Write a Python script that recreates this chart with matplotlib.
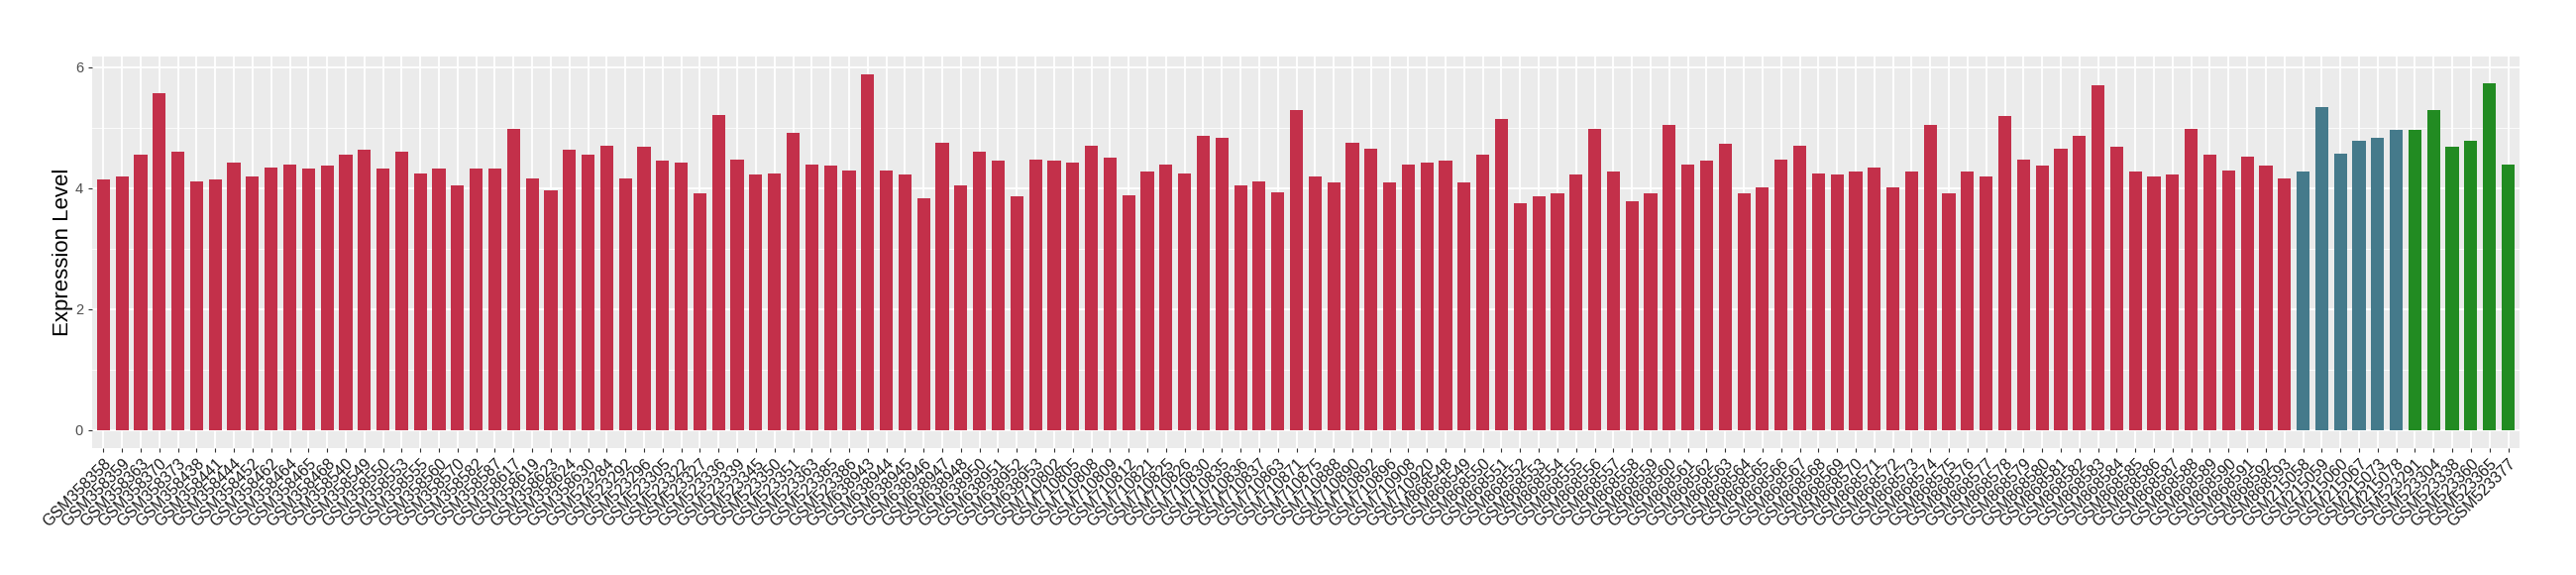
import numpy as np
import matplotlib
matplotlib.use("Agg")
import matplotlib.pyplot as plt
from matplotlib.ticker import MultipleLocator

plt.rcParams["font.family"] = ["Liberation Sans", "DejaVu Sans"]

# sample ids per group
group1_samples = [
    "GSM358358", "GSM358359", "GSM358363", "GSM358370", "GSM358373", "GSM358438",
    "GSM358441", "GSM358444", "GSM358452", "GSM358462", "GSM358464", "GSM358465",
    "GSM358468", "GSM358540", "GSM358549", "GSM358550", "GSM358553", "GSM358555",
    "GSM358560", "GSM358570", "GSM358582", "GSM358587", "GSM358617", "GSM358619",
    "GSM358623", "GSM358624", "GSM358630",
    "GSM523284", "GSM523292", "GSM523296", "GSM523305", "GSM523322", "GSM523327",
    "GSM523336", "GSM523339", "GSM523345", "GSM523350", "GSM523351", "GSM523363",
    "GSM523385", "GSM523386",
    "GSM638943", "GSM638944", "GSM638945", "GSM638946", "GSM638947", "GSM638948",
    "GSM638950", "GSM638951", "GSM638952", "GSM638953",
    "GSM710802", "GSM710805", "GSM710808", "GSM710809", "GSM710812", "GSM710821",
    "GSM710825", "GSM710826", "GSM710830", "GSM710835", "GSM710836", "GSM710837",
    "GSM710863", "GSM710871", "GSM710875", "GSM710888", "GSM710890", "GSM710892",
    "GSM710896", "GSM710908", "GSM710920",
    "GSM868548", "GSM868549", "GSM868550", "GSM868551", "GSM868552", "GSM868553",
    "GSM868554", "GSM868555", "GSM868556", "GSM868557", "GSM868558", "GSM868559",
    "GSM868560", "GSM868561", "GSM868562", "GSM868563", "GSM868564", "GSM868565",
    "GSM868566", "GSM868567", "GSM868568", "GSM868569", "GSM868570", "GSM868571",
    "GSM868572", "GSM868573", "GSM868574", "GSM868575", "GSM868576", "GSM868577",
    "GSM868578", "GSM868579", "GSM868580", "GSM868581", "GSM868582", "GSM868583",
    "GSM868584", "GSM868585", "GSM868586", "GSM868587", "GSM868588", "GSM868589",
    "GSM868590", "GSM868591", "GSM868592", "GSM868593",
]
group2_samples = ["GSM215058", "GSM215059", "GSM215060", "GSM215067", "GSM215073", "GSM215078"]
group3_samples = ["GSM523291", "GSM523304", "GSM523338", "GSM523360", "GSM523365", "GSM523377"]

group1_values = [
    4.14, 4.20, 4.55, 5.58, 4.60, 4.12, 4.14, 4.43, 4.20, 4.35, 4.40, 4.33, 4.37,
    4.55, 4.64, 4.32, 4.60, 4.25, 4.33, 4.04, 4.32, 4.33, 4.99, 4.17, 3.96, 4.63,
    4.55, 4.71, 4.17, 4.68, 4.45, 4.42, 3.92, 5.22, 4.48, 4.22, 4.25, 4.91, 4.40,
    4.38, 4.30, 5.89, 4.30, 4.23, 3.83, 4.76, 4.05, 4.60, 4.45, 3.87, 4.48, 4.45,
    4.43, 4.71, 4.50, 3.89, 4.28, 4.40, 4.25, 4.86, 4.83, 4.05, 4.12, 3.94, 5.30,
    4.19, 4.10, 4.76, 4.66, 4.09, 4.40, 4.43, 4.46, 4.09, 4.56, 5.15, 3.76,
    3.86, 3.91, 4.23, 4.99, 4.28, 3.79, 3.91, 5.04, 4.40, 4.45, 4.74, 3.91, 4.01,
    4.48, 4.71, 4.25, 4.22, 4.27, 4.35, 4.02, 4.27, 5.04, 3.92, 4.28, 4.20, 5.20,
    4.48, 4.38, 4.66, 4.87, 5.71, 4.68, 4.28, 4.19, 4.23, 4.99, 4.56, 4.30, 4.53,
    4.37, 4.17,
]
group2_values = [4.27, 5.35, 4.58, 4.79, 4.84, 4.97]
group3_values = [4.96, 5.30, 4.68, 4.78, 5.73, 4.40]

colors = {"g1": "#C3304A", "g2": "#457A8B", "g3": "#228B22"}

samples = group1_samples + group2_samples + group3_samples
values = group1_values + group2_values + group3_values
bar_colors = ([colors["g1"]] * len(group1_values) + [colors["g2"]] * len(group2_values)
              + [colors["g3"]] * len(group3_values))

fig = plt.figure(figsize=(26, 5.8), dpi=100)
ax = fig.add_axes([0.0358, 0.2212, 0.9422, 0.6810])
ax.set_facecolor("#EBEBEB")

x = np.arange(len(samples))
ax.bar(x, values, width=0.7, color=bar_colors, zorder=3)

ax.set_xlim(-0.6, len(samples) - 0.4)
ax.set_ylim(-max(values) * 0.05, max(values) * 1.05)

ax.yaxis.set_major_locator(MultipleLocator(2))
ax.yaxis.set_minor_locator(MultipleLocator(1))
ax.grid(which="major", color="white", linewidth=1.3, zorder=0)
ax.grid(which="minor", axis="y", color="white", linewidth=0.6, zorder=0)
ax.set_axisbelow(True)

ax.set_xticks(x)
ax.set_xticklabels(samples, rotation=45, ha="right", va="top", rotation_mode="anchor",
                   fontsize=11.5, color="#1A1A1A")
ax.tick_params(axis="y", which="major", labelsize=10.5, labelcolor="#4D4D4D",
               color="#333333", length=3, width=0.8)
ax.tick_params(axis="y", which="minor", length=0)
ax.tick_params(axis="x", color="#333333", length=3, width=0.8, pad=3)

for s in ax.spines.values():
    s.set_visible(False)

ax.set_ylabel("Expression Level", fontsize=16, labelpad=1)

fig.savefig("out.png", dpi=100)
